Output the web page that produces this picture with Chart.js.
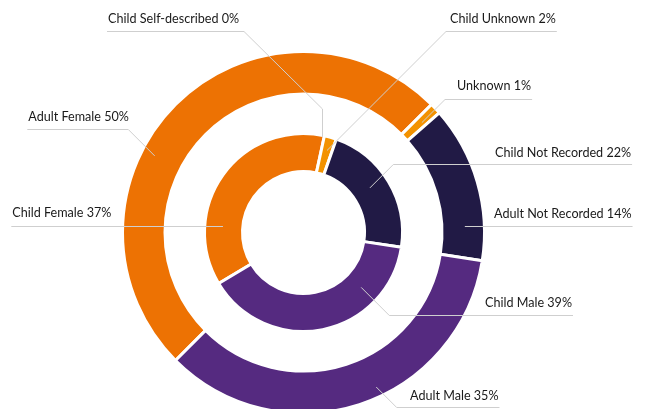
<!DOCTYPE html>
<html>
<head>
<meta charset="utf-8">
<script src="https://cdn.jsdelivr.net/npm/chart.js@4/dist/chart.umd.min.js"></script>
<style>
  html, body { margin: 0; padding: 0; background: #fff; overflow: hidden; }
  #marco { width: 645px; height: 409px; overflow: hidden; }
  canvas { display: block; }
</style>
</head>
<body>
<div id="marco"><canvas id="graficoGenero" width="645" height="430"></canvas></div>
<script>
// Anillo exterior: adultos
const etiquetasAdultos = ['Adult Female', 'Unknown', 'Adult Not Recorded', 'Adult Male'];
const valoresAdultos = [50, 1, 14, 35];

// Anillo interior: niños
const etiquetasNinos = ['Child Female', 'Child Self-described', 'Child Unknown', 'Child Not Recorded', 'Child Male'];
const valoresNinos = [37, 0, 2, 22, 39];

// Colores por categoría
const NARANJA = '#ed7203';
const AMBAR = '#f39200';
const AZUL = '#211a45';
const MORADO = '#552a80';
const coloresAdultos = [NARANJA, AMBAR, AZUL, MORADO];
const coloresNinos = [NARANJA, AMBAR, AMBAR, AZUL, MORADO];

// Rótulos: dataset, índice, posición del texto, línea y guía hasta el anillo.
// t = profundidad dentro del anillo donde termina la guía (0 borde interno, 1 borde externo)
const rotulos = [
  { ds: 2, i: 1, x: 108, y: 18.5, inicio: [244, 31], paso: [322, 109], dir: [0, 1], t: 0.96 },
  { ds: 2, i: 2, x: 450, y: 18.5, inicio: [446, 31], dir: [-1, 1], t: 0.64 },
  { ds: 0, i: 1, x: 457, y: 86, inicio: [445, 99.3], dir: [-1, 1], t: 0.54 },
  { ds: 0, i: 0, x: 28.3, y: 117.3, inicio: [128.3, 129.3], dir: [1, 1], t: 0.68 },
  { ds: 2, i: 3, x: 495, y: 153, inicio: [393.3, 164.3], dir: [-1, 1], t: 0.5 },
  { ds: 2, i: 0, x: 12.3, y: 213.3, inicio: [112, 226], dir: [1, 0], t: 0.52 },
  { ds: 0, i: 2, x: 494, y: 213.5, inicio: [494, 226.3], dir: [-1, 0], t: 0.54 },
  { ds: 2, i: 4, x: 485, y: 302.7, inicio: [389.3, 315], dir: [-1, -1], t: 0.49 },
  { ds: 0, i: 3, x: 410, y: 395.7, inicio: [396.7, 407.3], dir: [-1, -1], t: 0.76 }
];

// Punto donde una semirrecta corta un círculo (primer corte)
function corteCirculo(px, py, dx, dy, cx, cy, r) {
  const n = Math.hypot(dx, dy);
  dx /= n; dy /= n;
  const wx = px - cx, wy = py - cy;
  const b = wx * dx + wy * dy;
  const c = wx * wx + wy * wy - r * r;
  const disc = b * b - c;
  const s = disc >= 0 ? -b - Math.sqrt(disc) : -b;
  return [px + dx * s, py + dy * s];
}

// Plugin que dibuja los textos con su subrayado y la guía hasta cada porción
const pluginRotulos = {
  id: 'rotulos',
  afterDatasetsDraw(chart) {
    const ctx = chart.ctx;
    ctx.save();
    ctx.font = '12.6px Lato';
    ctx.textBaseline = 'middle';
    ctx.textAlign = 'left';
    ctx.lineWidth = 1;
    ctx.strokeStyle = '#cfcfcf';
    ctx.fillStyle = '#1a1a1a';

    for (let r of rotulos) {
      const dataset = chart.data.datasets[r.ds];
      const arco = chart.getDatasetMeta(r.ds).data[r.i];
      const p = arco.getProps(['x', 'y', 'innerRadius', 'outerRadius'], true);
      const radio = p.innerRadius + r.t * (p.outerRadius - p.innerRadius);

      const texto = `${dataset.etiquetas[r.i]} ${dataset.data[r.i]}%`;
      const ancho = ctx.measureText(texto).width;
      const sy = Math.round(r.inicio[1]) + 0.5;

      // subrayado bajo el texto
      let x0, x1;
      if (r.inicio[0] > r.x + ancho / 2) {
        x0 = r.x - 1;
        x1 = r.inicio[0];
      } else {
        x0 = r.inicio[0];
        x1 = r.x + ancho + 1;
      }

      let ultimo = [r.inicio[0], sy];
      ctx.beginPath();
      ctx.moveTo(x0, sy);
      ctx.lineTo(x1, sy);
      ctx.moveTo(ultimo[0], ultimo[1]);
      if (r.paso) {
        ultimo = [Math.round(r.paso[0]) + 0.5, r.paso[1]];
        ctx.lineTo(ultimo[0], ultimo[1]);
      }
      const fin = corteCirculo(ultimo[0], ultimo[1], r.dir[0], r.dir[1], p.x, p.y, radio);
      ctx.lineTo(fin[0], fin[1]);
      ctx.stroke();

      ctx.fillText(texto, r.x, r.y);
    }
    ctx.restore();
  }
};

const ctx = document.getElementById('graficoGenero').getContext('2d');

new Chart(ctx, {
  type: 'doughnut',
  data: {
    datasets: [
      {
        etiquetas: etiquetasAdultos,
        data: valoresAdultos,
        backgroundColor: coloresAdultos,
        rotation: 225,
        weight: 42.5
      },
      {
        // separación entre los dos anillos
        etiquetas: [''],
        data: [1],
        backgroundColor: 'rgba(0,0,0,0)',
        borderWidth: 0,
        weight: 39.5
      },
      {
        etiquetas: etiquetasNinos,
        data: valoresNinos,
        backgroundColor: coloresNinos,
        rotation: 239,
        weight: 38
      }
    ]
  },
  options: {
    responsive: false,
    animation: false,
    events: [],
    cutout: 61,
    borderColor: '#ffffff',
    borderWidth: 3,
    hoverOffset: 0,
    layout: {
      padding: { left: 121, right: 159, top: 50, bottom: 15 }
    },
    plugins: {
      legend: { display: false },
      tooltip: { enabled: false }
    }
  },
  plugins: [pluginRotulos]
});
</script>
</body>
</html>
